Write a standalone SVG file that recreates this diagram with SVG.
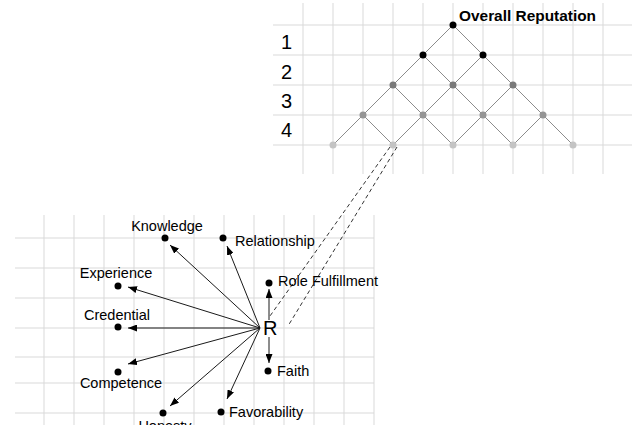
<svg xmlns="http://www.w3.org/2000/svg" width="632" height="425" viewBox="0 0 632 425">
<style>
.grid line{stroke:#d9d9d9;stroke-width:1}
.lat line{stroke:#8c8c8c;stroke-width:1}
.arr line{stroke:#1a1a1a;stroke-width:1}
.dash line{stroke:#333;stroke-width:1;stroke-dasharray:4 3}
text{font-family:"Liberation Sans",Arial,sans-serif;fill:#000}
.lbl{font-size:14.5px}
.num{font-size:20px}
.dot{fill:#000}
</style>
<defs>
<marker id="ah" markerWidth="9" markerHeight="7" refX="9" refY="3.5" orient="auto" markerUnits="userSpaceOnUse">
<path d="M0,0 L9,3.5 L0,7 Z" fill="#000"/>
</marker>
</defs>
<rect width="632" height="425" fill="#fff"/>
<g class="grid" id="grid-top">
<line x1="273" y1="25" x2="632" y2="25"/>
<line x1="273" y1="55" x2="632" y2="55"/>
<line x1="273" y1="85" x2="632" y2="85"/>
<line x1="273" y1="115" x2="632" y2="115"/>
<line x1="273" y1="145" x2="632" y2="145"/>
<line x1="303" y1="3" x2="303" y2="174"/>
<line x1="333" y1="3" x2="333" y2="174"/>
<line x1="363" y1="3" x2="363" y2="174"/>
<line x1="393" y1="3" x2="393" y2="174"/>
<line x1="423" y1="3" x2="423" y2="174"/>
<line x1="453" y1="3" x2="453" y2="174"/>
<line x1="483" y1="3" x2="483" y2="174"/>
<line x1="513" y1="3" x2="513" y2="174"/>
<line x1="543" y1="3" x2="543" y2="174"/>
<line x1="573" y1="3" x2="573" y2="174"/>
<line x1="603" y1="3" x2="603" y2="174"/>
</g>
<g class="grid" id="grid-bottom">
<line x1="15" y1="238" x2="374" y2="238"/>
<line x1="15" y1="268" x2="374" y2="268"/>
<line x1="15" y1="298" x2="374" y2="298"/>
<line x1="15" y1="328" x2="374" y2="328"/>
<line x1="15" y1="357" x2="374" y2="357"/>
<line x1="15" y1="383" x2="374" y2="383"/>
<line x1="15" y1="413" x2="374" y2="413"/>
<line x1="44" y1="215" x2="44" y2="425"/>
<line x1="74" y1="215" x2="74" y2="425"/>
<line x1="104" y1="215" x2="104" y2="425"/>
<line x1="134" y1="215" x2="134" y2="425"/>
<line x1="164" y1="215" x2="164" y2="425"/>
<line x1="194" y1="215" x2="194" y2="425"/>
<line x1="224" y1="215" x2="224" y2="425"/>
<line x1="254" y1="215" x2="254" y2="425"/>
<line x1="284" y1="215" x2="284" y2="425"/>
<line x1="314" y1="215" x2="314" y2="425"/>
<line x1="344" y1="215" x2="344" y2="425"/>
<line x1="374" y1="215" x2="374" y2="425"/>
</g>
<g id="connectors">
<g class="lat">
<line x1="453" y1="25" x2="333" y2="145"/>
<line x1="453" y1="25" x2="573" y2="145"/>
<line x1="423" y1="55" x2="513" y2="145"/>
<line x1="483" y1="55" x2="393" y2="145"/>
<line x1="393" y1="85" x2="453" y2="145"/>
<line x1="513" y1="85" x2="453" y2="145"/>
<line x1="363" y1="115" x2="393" y2="145"/>
<line x1="543" y1="115" x2="513" y2="145"/>
</g>
<g class="dash">
<line x1="390" y1="147" x2="270" y2="316"/>
<line x1="397" y1="147" x2="288" y2="326"/>
</g>
<g class="arr">
<line x1="260" y1="328" x2="170" y2="245" marker-end="url(#ah)"/>
<line x1="260" y1="328" x2="227" y2="246" marker-end="url(#ah)"/>
<line x1="260" y1="328" x2="128" y2="287" marker-end="url(#ah)"/>
<line x1="260" y1="328" x2="128" y2="328" marker-end="url(#ah)"/>
<line x1="260" y1="328" x2="128" y2="364" marker-end="url(#ah)"/>
<line x1="260" y1="328" x2="170" y2="406" marker-end="url(#ah)"/>
<line x1="260" y1="328" x2="227" y2="399" marker-end="url(#ah)"/>
<line x1="269" y1="320" x2="269" y2="289" marker-end="url(#ah)"/>
<line x1="269" y1="337" x2="269" y2="363" marker-end="url(#ah)"/>
</g>
</g>
<g id="lattice-nodes">
<g id="n-top"><circle cx="453" cy="25" r="3.5" fill="#000"/><text x="459" y="21" font-size="14" font-weight="bold" textLength="137" lengthAdjust="spacingAndGlyphs">Overall Reputation</text></g>
<g id="n-2a"><circle cx="423" cy="55" r="3.5" fill="#000"/></g>
<g id="n-2b"><circle cx="483" cy="55" r="3.5" fill="#000"/></g>
<g id="n-3a"><circle cx="393" cy="85" r="3.5" fill="#7a7a7a"/></g>
<g id="n-3b"><circle cx="453" cy="85" r="3.5" fill="#7a7a7a"/></g>
<g id="n-3c"><circle cx="513" cy="85" r="3.5" fill="#7a7a7a"/></g>
<g id="n-4a"><circle cx="363" cy="115" r="3.5" fill="#959595"/></g>
<g id="n-4b"><circle cx="423" cy="115" r="3.5" fill="#959595"/></g>
<g id="n-4c"><circle cx="483" cy="115" r="3.5" fill="#959595"/></g>
<g id="n-4d"><circle cx="543" cy="115" r="3.5" fill="#959595"/></g>
<g id="n-5a"><circle cx="333" cy="145" r="3.5" fill="#c4c4c4"/></g>
<g id="n-5b"><circle cx="393" cy="145" r="3.5" fill="#c4c4c4"/></g>
<g id="n-5c"><circle cx="453" cy="145" r="3.5" fill="#c4c4c4"/></g>
<g id="n-5d"><circle cx="513" cy="145" r="3.5" fill="#c4c4c4"/></g>
<g id="n-5e"><circle cx="573" cy="145" r="3.5" fill="#c4c4c4"/></g>
</g>
<g id="levels">
<text class="num" x="281" y="49">1</text>
<text class="num" x="281" y="78.5">2</text>
<text class="num" x="281" y="108">3</text>
<text class="num" x="281" y="137">4</text>
</g>
<g id="R"><text x="263" y="335" font-size="20">R</text></g>
<g id="knowledge"><circle class="dot" cx="165" cy="238" r="3.5"/><text class="lbl" x="167" y="231" text-anchor="middle">Knowledge</text></g>
<g id="relationship"><circle class="dot" cx="223" cy="238" r="3.5"/><text class="lbl" x="235" y="246">Relationship</text></g>
<g id="experience"><circle class="dot" cx="118" cy="286" r="3.5"/><text class="lbl" x="116" y="278" text-anchor="middle">Experience</text></g>
<g id="role"><circle class="dot" cx="269" cy="283" r="3.5"/><text class="lbl" x="278" y="286" textLength="100" lengthAdjust="spacingAndGlyphs">Role Fulfillment</text></g>
<g id="credential"><circle class="dot" cx="118" cy="327" r="3.5"/><text class="lbl" x="117" y="320" text-anchor="middle">Credential</text></g>
<g id="competence"><circle class="dot" cx="118" cy="372" r="3.5"/><text class="lbl" x="121" y="388" text-anchor="middle">Competence</text></g>
<g id="faith"><circle class="dot" cx="268" cy="371" r="3.5"/><text class="lbl" x="277" y="376">Faith</text></g>
<g id="favorability"><circle class="dot" cx="221" cy="412" r="3.5"/><text class="lbl" x="229" y="417">Favorability</text></g>
<g id="honesty"><circle class="dot" cx="163" cy="413" r="3.5"/><text class="lbl" x="165" y="431" text-anchor="middle">Honesty</text></g>
</svg>
